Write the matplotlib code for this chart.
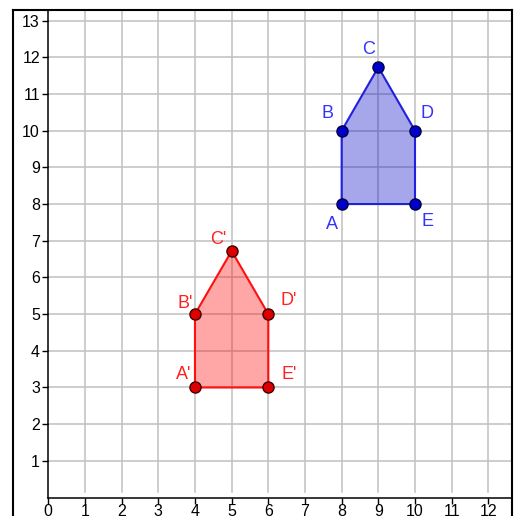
import matplotlib
matplotlib.use("Agg")
import matplotlib.pyplot as plt
from matplotlib.lines import Line2D

plt.rcParams["font.family"] = ["Liberation Sans", "DejaVu Sans"]

# original polygon ABCDE and its image A'B'C'D'E'
names = ["A", "B", "C", "D", "E"]
orig_x = [8, 8, 9, 10, 10]
orig_y = [8, 10, 11.73, 10, 8]
img_x = [4, 4, 5, 6, 6]
img_y = [3, 5, 6.72, 5, 3]
img_names = ["A'", "B'", "C'", "D'", "E'"]

# label offsets (pixels) from each vertex
orig_off = [(-10, -20), (-14, 17), (-10, 18), (12, 17), (12, -17)]
img_off = [(-11, 13), (-10, 11), (-13, 12), (20, 14), (21, 13)]

xticks = list(range(0, 13))
yticks = list(range(1, 14))

W, H = 519, 516
fig = plt.figure(figsize=(W / 100, H / 100), dpi=100)
ax = fig.add_axes([0, 0, 1, 1])
ax.set_xlim(-1.317, 12.836)
ax.set_ylim(-0.503, 13.562)

# grid (only in first quadrant, inside the frame)
grid_c = "#c0c0c0"
for gx in range(1, 13):
    ax.plot([gx, gx], [0.15, 13.29], color=grid_c, lw=1.1, zorder=1)
for gy in range(1, 14):
    ax.plot([0, 12.64], [gy, gy], color=grid_c, lw=1.1, zorder=1)

# axes through origin
for s in ["top", "right"]:
    ax.spines[s].set_visible(False)
ax.spines["left"].set_position(("data", 0))
ax.spines["bottom"].set_position(("data", 0))
ax.spines["left"].set_bounds(0, 13.29)
ax.spines["bottom"].set_bounds(0, 12.64)
ax.spines["left"].set_linewidth(1.1)
ax.spines["bottom"].set_linewidth(1.1)
ax.set_xticks(xticks)
ax.set_yticks(yticks)
ax.tick_params(direction="out", length=4, width=1, labelsize=11.5, pad=2)
ax.tick_params(axis="x", pad=1)

# polygons
ax.fill(orig_x, orig_y, color="#0000c8", alpha=0.35, lw=0, zorder=2)
ax.plot(orig_x + orig_x[:1], orig_y + orig_y[:1], color="#2020dd", lw=1.5, zorder=3)
ax.plot(orig_x, orig_y, "o", ms=8, mfc="#0000cc", mec="#000040", mew=1, zorder=4)

ax.fill(img_x, img_y, color="#ff0000", alpha=0.35, lw=0, zorder=2)
ax.plot(img_x + img_x[:1], img_y + img_y[:1], color="#ff1010", lw=1.5, zorder=3)
ax.plot(img_x, img_y, "o", ms=8, mfc="#dd0000", mec="#400000", mew=1, zorder=4)

for n, x, y, o in zip(names, orig_x, orig_y, orig_off):
    ax.annotate(n, (x, y), xytext=o, textcoords="offset pixels", ha="center",
                va="center", fontsize=13, color="#3333ff")
for n, x, y, o in zip(img_names, img_x, img_y, img_off):
    ax.annotate(n, (x, y), xytext=o, textcoords="offset pixels", ha="center",
                va="center", fontsize=13, color="#ff2222")

# outer frame
def px(x, y):
    return x / W, 1 - y / H

for (x0, y0), (x1, y1) in [((12.5, 530), (12.5, 10)), ((12.5, 10), (512, 10)), ((512, 10), (512, 530))]:
    a, b = px(x0, y0)
    c, d = px(x1, y1)
    fig.add_artist(Line2D([a, c], [b, d], color="black", lw=1.5, transform=fig.transFigure))

fig.savefig("out.png", dpi=100)
